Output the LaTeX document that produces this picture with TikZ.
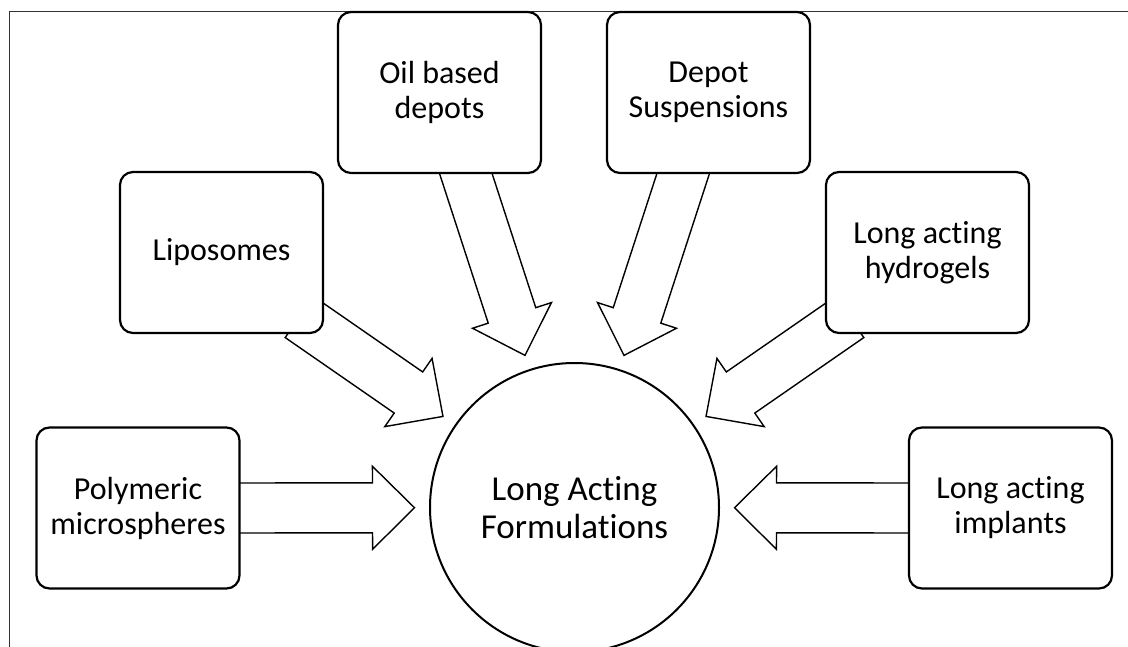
\documentclass[tikz,border=0pt]{standalone}
\usepackage{fontspec}
\setmainfont{Carlito}[Ligatures=NoCommon]
\usetikzlibrary{calc}
\pgfdeclarelayer{background}
\pgfsetlayers{background,main}
\tikzset{
  boxnode/.style={draw=black, line width=2.2pt, rounded corners=13pt, fill=white,
    minimum width=203pt, minimum height=161pt, inner sep=0pt, align=center,
    font=\fontsize{32}{35}\selectfont},
  circnode/.style={draw=black, line width=2pt, circle, fill=white, minimum size=289pt,
    inner sep=0pt, align=center, font=\fontsize{35}{38}\selectfont},
  blk/.style={draw=black, line width=1.4pt, fill=white, line join=miter},
  frame/.style={draw=black!80, line width=1pt}
}
\newcommand\blockarr[2]{%
  \coordinate (#1h) at ($(#2)!42pt!(#1)$);
  \draw[blk] ($(#1)!25pt!90:(#2)$) -- ($(#1h)!25pt!-90:(#1)$) -- ($(#1h)!41.5pt!-90:(#1)$)
    -- (#2) -- ($(#1h)!41.5pt!90:(#1)$) -- ($(#1h)!25pt!90:(#1)$)
    -- ($(#1)!25pt!-90:(#2)$) -- cycle;}
\begin{document}
\begin{tikzpicture}[x=1pt,y=-1pt]
\useasboundingbox (0,0) rectangle (1128,647);
\clip (0,0) rectangle (1128,647);
% centre circle
\node[circnode] (c) at (574.5,507.5) {Long Acting\\Formulations};
% boxes
\node[boxnode] (poly) at (138,508) {Polymeric\\microspheres};
\node[boxnode] (impl) at (1010.5,508) {Long acting\\implants};
\node[boxnode] (lipo) at (221.5,252.5) {Liposomes};
\node[boxnode] (hydr) at (927.5,252.5) {Long acting\\hydrogels};
\node[boxnode] (oil) at (439.5,92.5) {Oil based\\depots};
\node[boxnode] (depo) at (708.5,92.5) {Depot\\Suspensions};
% anchor points of arrows
\coordinate (a1) at (poly.east);
\coordinate (a2) at (impl.west);
\coordinate (a3) at (lipo.south east);
\coordinate (a4) at (hydr.south west);
\coordinate (a5) at ($(oil.south)+(26.5,0)$);
\coordinate (a6) at ($(depo.south)+(-25.5,0)$);
\begin{pgfonlayer}{background}
\draw[frame] (1140,12) -- (9,12) -- (9,660);
\foreach \i in {1,...,6}{
  \coordinate (s\i) at ($(a\i)!-30pt!(c.center)$);
  \coordinate (t\i) at ($(c.center)!160pt!(a\i)$);
}
\blockarr{s1}{t1}
\blockarr{s2}{t2}
\blockarr{s3}{t3}
\blockarr{s4}{t4}
\blockarr{s5}{t5}
\blockarr{s6}{t6}
\end{pgfonlayer}
\end{tikzpicture}
\end{document}
